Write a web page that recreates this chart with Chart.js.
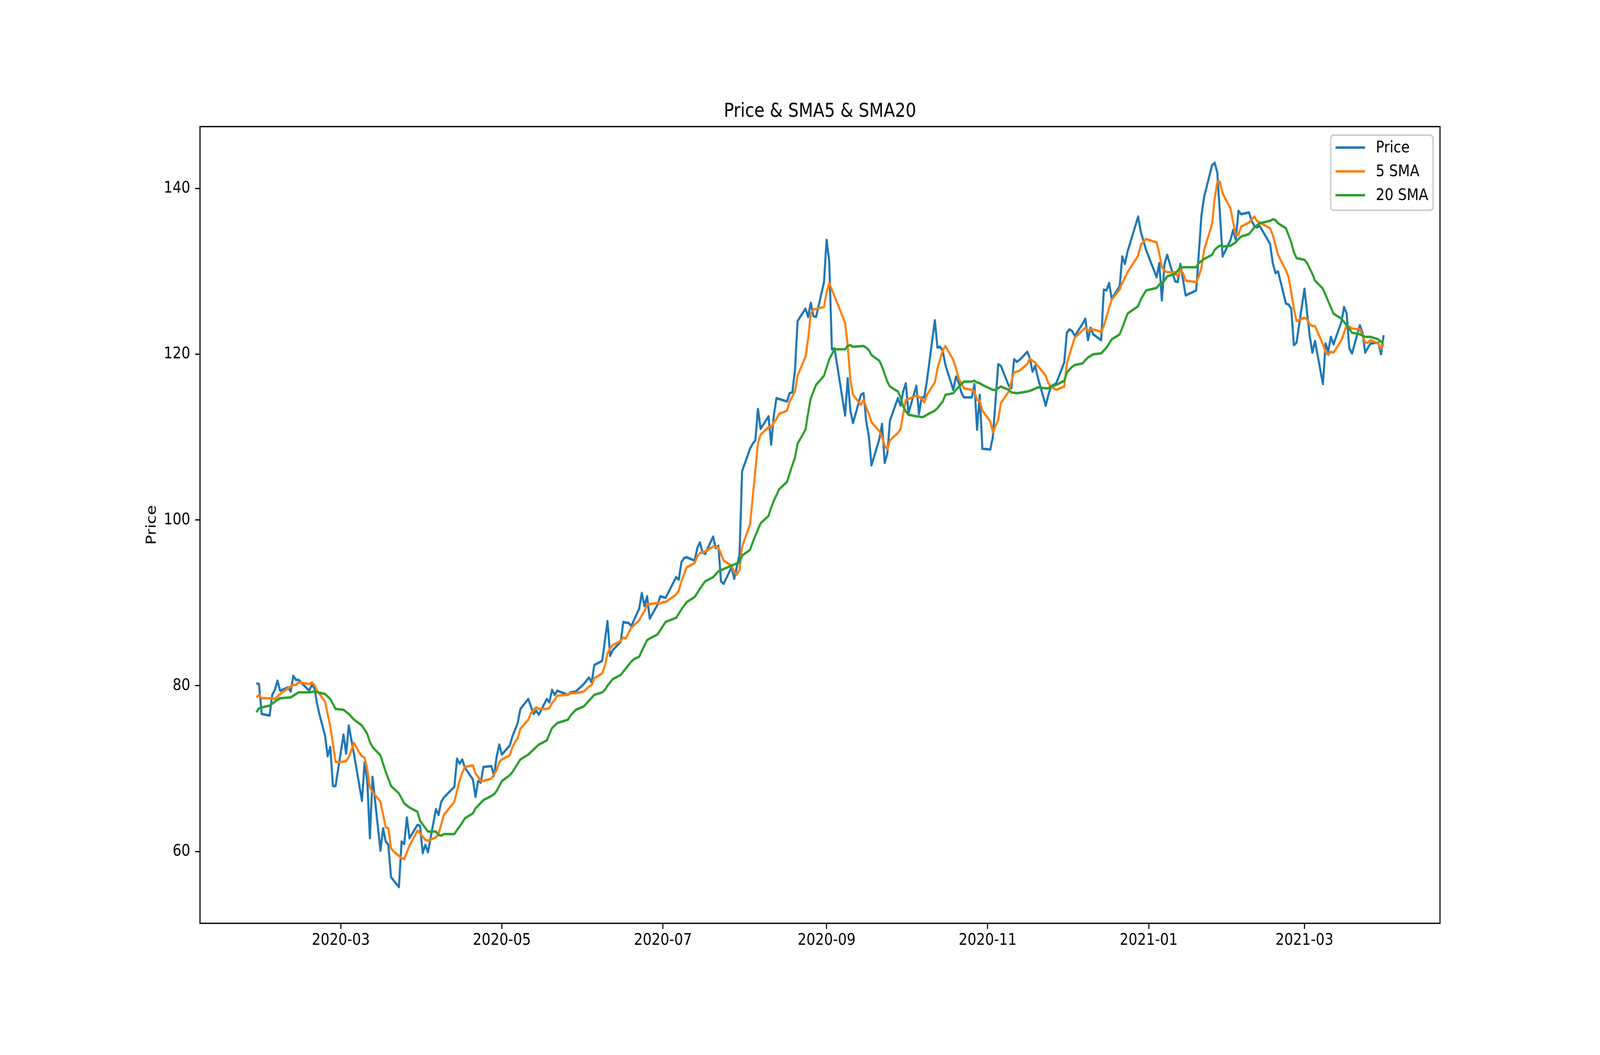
<!DOCTYPE html>
<html>
<head>
<meta charset="utf-8">
<title>Price &amp; SMA5 &amp; SMA20</title>
<script src="https://cdn.jsdelivr.net/npm/chart.js@4.4.1/dist/chart.umd.min.js"></script>
<style>
  html, body { margin: 0; padding: 0; background: #ffffff; overflow: hidden; }
  canvas { display: block; position: fixed; left: 0; top: 0; }
</style>
</head>
<body>
<canvas id="graphique" width="4800" height="2700"></canvas>
<script>
// jours comptés depuis le 2020-01-01 (0 = 1er janvier 2020)
var prixJours = [28,29,30,33,34,35,36,37,40,41,42,43,44,48,49,50,51,52,54,55,56,57,58,61,62,63,65,68,69,70,71,72,75,76,77,78,79,82,83,84,85,86,89,90,91,92,93,96,97,98,
  99,103,104,105,106,107,110,111,112,113,114,117,118,119,120,121,124,125,127,128,131,133,134,135,138,139,140,141,142,146,147,149,152,154,155,156,159,160,161,162,163,166,167,168,169,170,
  173,174,175,176,177,180,181,183,187,188,189,190,191,194,195,196,197,198,201,202,203,204,205,208,209,211,212,215,216,217,218,219,222,223,224,225,229,230,231,232,233,236,237,238,239,240,243,244,245,246,247,
  251,252,253,254,257,258,259,260,261,264,265,266,267,268,271,272,273,274,275,278,279,280,281,282,285,286,287,288,289,292,293,294,295,296,299,300,301,302,303,306,307,309,310,313,314,315,316,317,318,320,321,322,323,324,
  327,328,329,331,334,335,336,337,338,341,342,343,344,345,348,349,350,351,352,355,356,357,358,362,363,365,369,370,371,372,373,376,377,378,380,384,386,387,390,391,392,394,397,398,399,400,401,404,
  405,406,407,408,412,413,414,415,418,419,420,421,422,425,427,428,429,432,433,434,435,436,439,440,441,442,443,446,447,448,450,453,454,455];
var prixValeurs = [80.3,80.2,76.6,76.4,78.9,79.5,80.6,79.4,79.8,79.3,81.2,80.7,80.7,79.4,80.1,79.7,77.8,76.4,74.0,71.5,72.6,67.9,67.9,74.1,71.8,75.2,71.7,66.1,70.8,68.5,61.6,69.0,60.1,62.8,61.2,60.8,56.9,55.7,61.2,60.9,64.1,61.6,63.2,63.1,59.8,60.8,59.9,65.1,64.4,66.0,
  66.5,67.8,71.2,70.6,71.1,70.1,68.7,66.6,68.5,68.3,70.2,70.3,69.1,71.4,72.9,71.7,72.8,73.9,75.5,77.2,78.4,76.6,77.0,76.5,78.4,78.0,79.5,78.9,79.4,78.9,79.2,79.3,80.2,81.0,80.4,82.5,83.0,85.4,87.8,83.6,84.3,85.3,87.7,87.6,87.6,87.2,
  89.3,91.2,89.6,90.8,88.1,89.8,90.8,90.6,93.1,92.8,94.9,95.4,95.5,95.1,96.6,97.3,96.1,95.9,98.0,96.6,96.9,92.6,92.3,94.3,92.9,95.8,105.9,108.6,109.2,109.6,113.4,111.0,112.5,109.1,112.6,114.7,114.3,115.3,115.4,118.0,124.0,125.5,124.5,126.2,124.6,124.5,128.7,133.8,131.2,120.6,120.7,
  112.6,117.1,113.2,111.7,115.1,115.3,111.9,110.1,106.6,109.8,111.6,106.9,108.0,112.0,114.7,113.8,115.5,116.5,112.9,116.2,112.8,114.8,114.8,116.8,124.1,120.8,120.9,120.4,118.7,115.7,117.3,116.6,115.4,114.8,114.8,116.4,110.9,115.1,108.6,108.5,110.1,118.8,118.6,116.2,115.9,119.4,119.1,119.3,119.6,120.3,119.5,117.9,118.6,117.2,
  113.8,115.1,116.1,116.5,119.0,122.6,123.0,122.8,122.2,123.7,124.3,121.7,123.2,122.4,121.7,127.8,127.7,128.6,126.7,128.2,131.8,130.9,132.4,136.6,134.8,132.6,129.3,131.0,126.5,130.9,132.0,128.8,128.7,130.9,127.1,127.7,136.8,139.0,142.8,143.1,141.9,131.8,133.8,135.0,133.8,137.3,136.9,137.1,
  136.1,135.5,135.3,135.5,133.3,131.0,129.8,130.0,126.1,126.0,125.5,121.1,121.4,127.9,122.2,120.2,121.6,116.4,121.3,120.3,122.1,121.2,123.9,125.7,124.9,120.7,120.1,123.5,122.6,120.2,121.3,121.4,120.0,122.3];

var sma5Jours = [28,29,30,34,35,37,40,41,42,43,44,48,49,50,51,54,56,58,60,62,63,65,67,68,69,70,71,72,75,77,78,79,80,83,84,86,89,90,92,93,96,97,
  99,103,105,106,107,110,111,112,113,114,117,118,119,120,121,124,125,126,127,128,131,132,134,135,138,139,140,141,142,146,147,149,152,154,155,156,159,160,161,162,163,166,167,168,169,170,
  173,174,175,176,178,180,181,182,183,187,188,189,191,194,195,196,198,201,203,205,208,209,210,211,212,215,216,217,218,219,222,223,224,225,226,229,230,232,233,236,237,238,239,243,244,245,
  251,252,253,254,257,258,259,260,261,264,265,266,267,268,271,272,274,275,278,280,281,282,285,286,288,289,292,293,294,296,299,300,301,302,303,306,307,309,310,313,314,315,317,320,321,322,323,
  327,328,329,331,334,335,337,338,342,343,345,348,349,351,352,355,356,358,362,363,365,369,370,371,372,373,376,377,378,379,380,384,385,386,387,390,391,392,393,394,397,398,399,400,401,404,
  406,407,408,412,413,414,415,418,419,420,421,422,425,426,427,428,429,432,433,434,435,436,439,440,441,443,446,447,448,449,450,453,454,455];
var sma5Valeurs = [78.6,78.9,78.5,78.5,78.4,79.0,79.7,79.9,80.1,80.1,80.4,80.2,80.4,80.1,79.4,78.1,75.1,70.8,70.8,70.9,71.4,73.1,71.9,71.5,71.3,69.9,67.7,67.2,66.0,62.9,62.8,60.4,60.0,59.2,59.1,60.7,62.5,62.2,61.4,61.3,61.7,62.1,
  64.4,66.0,68.6,69.5,70.2,70.4,69.4,69.0,68.5,68.5,68.8,69.3,69.8,70.8,71.1,71.6,72.6,73.2,73.7,74.8,75.9,76.7,77.4,77.2,77.2,77.3,77.9,78.3,78.8,78.9,79.1,79.1,79.3,79.9,80.1,80.9,81.5,82.4,83.9,84.5,84.9,85.4,85.8,85.7,86.4,87.0,
  87.9,88.5,89.0,89.8,89.9,90.0,89.9,90.1,90.1,91.0,91.5,92.6,94.3,94.8,95.6,96.0,96.2,96.8,96.7,95.1,94.5,93.7,93.4,94.0,96.8,99.5,102.7,106.0,109.3,110.3,111.2,111.2,111.8,112.2,112.8,113.2,114.3,115.5,117.4,119.7,121.9,124.9,125.4,125.7,127.5,128.6,
  123.8,121.0,116.9,115.1,113.9,114.5,113.6,112.8,111.8,110.7,110.0,109.0,108.5,109.6,110.5,111.0,114.5,114.6,115.0,114.7,114.2,115.1,116.6,118.3,120.5,121.0,119.3,118.3,117.1,115.9,115.7,115.5,114.5,114.4,113.2,111.9,110.6,112.1,114.1,115.5,116.7,117.8,118.0,118.8,119.5,119.2,119.0,
  117.4,116.5,116.1,115.7,116.1,118.9,121.0,122.0,123.2,122.9,123.0,122.7,123.4,125.6,126.6,127.8,128.6,129.9,131.9,133.2,133.9,133.5,132.2,130.5,130.1,129.9,129.9,129.4,130.2,129.8,128.9,128.7,129.4,130.5,132.6,135.7,138.8,140.8,140.8,139.4,137.6,135.9,134.4,134.4,135.4,135.9,
  136.6,136.1,135.9,135.2,134.4,133.2,132.0,130.1,129.3,127.4,125.5,124.0,124.4,124.2,123.6,123.4,123.4,121.2,120.3,119.9,120.3,120.2,121.7,122.6,123.5,123.1,123.0,122.3,121.4,121.4,121.7,121.3,120.7,121.2];

var sma20Jours = [28,29,33,36,37,41,44,48,50,54,56,58,61,63,65,68,70,71,72,75,77,79,82,84,86,89,90,93,96,97,98,
  99,103,104,105,107,110,111,114,117,118,119,121,124,125,128,131,135,138,140,142,146,147,149,152,154,156,159,160,161,163,166,168,170,
  171,173,174,176,177,180,183,187,189,191,194,196,198,201,203,208,211,212,215,216,217,219,222,223,224,226,229,231,232,233,236,237,238,240,243,245,246,247,
  251,252,253,254,258,259,260,261,264,265,267,268,271,272,273,274,275,278,279,280,281,282,285,286,288,289,292,293,295,296,299,300,301,302,303,307,308,309,310,313,314,316,320,321,322,324,
  327,328,329,331,334,335,337,338,341,342,343,345,348,350,351,352,355,356,358,362,363,365,369,370,372,373,376,377,378,380,384,385,387,390,391,392,393,394,397,398,399,400,401,404,
  406,408,412,413,414,415,418,420,421,422,425,426,428,429,432,434,436,439,441,443,446,448,450,453,454,455];
var sma20Valeurs = [76.8,77.3,77.6,78.3,78.5,78.6,79.2,79.2,79.3,79.0,78.4,77.2,77.1,76.6,75.9,75.2,74.2,73.2,72.6,71.6,69.6,67.9,67.0,65.8,65.3,64.8,63.7,62.4,62.4,62.0,61.9,
  62.1,62.1,62.6,63.0,64.0,64.6,65.2,66.2,66.7,66.9,67.3,68.5,69.2,69.6,71.1,71.7,72.9,73.4,74.9,75.5,75.9,76.4,77.1,77.5,78.2,78.9,79.2,79.5,80.0,80.8,81.3,82.1,82.9,
  83.2,83.5,84.2,85.5,85.7,86.2,87.7,88.2,89.2,90.1,90.7,91.7,92.6,93.1,93.8,94.5,94.9,95.7,96.4,97.3,98.1,99.6,100.5,101.5,102.3,103.7,104.6,106.6,107.5,109.2,110.9,112.9,114.7,116.3,117.4,119.4,120.0,120.6,
  120.6,121.0,121.1,120.9,121.0,120.8,120.5,119.9,119.2,118.5,116.7,116.1,115.5,114.8,113.7,113.1,112.7,112.5,112.5,112.4,112.5,112.7,113.2,113.5,114.3,115.1,115.3,115.7,116.4,116.7,116.7,116.8,116.6,116.5,116.3,115.7,115.7,115.9,116.1,115.7,115.4,115.3,115.5,115.6,115.7,116.0,
  115.9,115.9,116.1,116.3,116.8,117.8,118.5,118.7,118.9,119.3,119.6,120.0,120.1,120.8,121.3,121.8,122.4,123.2,124.9,125.8,126.6,127.7,128.0,128.4,128.9,129.4,129.7,130.1,130.5,130.5,130.5,131.0,131.5,132.0,132.6,132.9,133.1,133.0,133.1,133.3,133.5,133.9,134.2,134.5,
  135.3,135.8,136.1,136.3,136.2,135.8,135.2,133.5,132.3,131.6,131.4,131.0,129.7,128.9,127.9,126.4,124.9,124.3,123.5,122.6,122.4,122.1,122.1,121.8,121.5,121.5];

// graduations
var tickLabels = ['2020-03','2020-05','2020-07','2020-09','2020-11','2021-01','2021-03'];
var yTicks = [60, 80, 100, 120, 140];

var jourZero = Date.UTC(2020, 0, 1);
function jourDepuis(label) {
  var p = label.split('-');
  return (Date.UTC(+p[0], +p[1] - 1, 1) - jourZero) / 86400000;
}
var tickJours = tickLabels.map(jourDepuis);

function points(jours, valeurs) {
  return jours.map(function(j, i) { return { x: j, y: valeurs[i] }; });
}

// marges de 5 % comme matplotlib
var xMinD = Math.min.apply(null, prixJours), xMaxD = Math.max.apply(null, prixJours);
var yMinD = Math.min.apply(null, prixValeurs.concat(sma5Valeurs, sma20Valeurs));
var yMaxD = Math.max.apply(null, prixValeurs.concat(sma5Valeurs, sma20Valeurs));
var xm = (xMaxD - xMinD) * 0.05, ym = (yMaxD - yMinD) * 0.05;

var police = 'DejaVu Sans';
var pt = 300 / 72;

var decorPlugin = {
  id: 'decor',
  afterDatasetsDraw: function(chart) {
    var ctx = chart.ctx, a = chart.chartArea;
    ctx.save();
    // cadre
    ctx.strokeStyle = '#000000';
    ctx.lineWidth = 0.8 * pt;
    ctx.strokeRect(a.left, a.top, a.right - a.left, a.bottom - a.top);

    // titre
    ctx.fillStyle = '#000000';
    ctx.font = (12 * pt) + 'px "' + police + '"';
    ctx.textAlign = 'center';
    ctx.textBaseline = 'alphabetic';
    ctx.fillText('Price & SMA5 & SMA20', (a.left + a.right) / 2, a.top - 6 * pt);

    // titre axe y
    ctx.font = (10 * pt) + 'px "' + police + '"';
    ctx.save();
    ctx.translate(456, (a.top + a.bottom) / 2);
    ctx.rotate(-Math.PI / 2);
    ctx.textBaseline = 'middle';
    ctx.fillText('Price', 0, 0);
    ctx.restore();

    // légende
    var lx = a.right - 328, ly = a.top + 22, lw = 307, lh = 192;
    ctx.beginPath();
    if (ctx.roundRect) ctx.roundRect(lx, ly, lw, lh, 0.2 * 10 * pt);
    else ctx.rect(lx, ly, lw, lh);
    ctx.fillStyle = 'rgba(255,255,255,0.8)';
    ctx.fill();
    ctx.strokeStyle = '#cccccc';
    ctx.lineWidth = 1 * pt;
    ctx.stroke();

    var noms = ['Price', '5 SMA', '20 SMA'];
    var couleurs = ['#1f77b4', '#ff7f0e', '#2ca02c'];
    ctx.textAlign = 'left';
    ctx.textBaseline = 'middle';
    ctx.lineWidth = 1.5 * pt;
    for (var i = 0; i < noms.length; i++) {
      var yy = ly + 31.5 + i * 61;
      ctx.strokeStyle = couleurs[i];
      ctx.beginPath();
      ctx.moveTo(lx + 14.5, yy);
      ctx.lineTo(lx + 103, yy);
      ctx.stroke();
      ctx.fillStyle = '#000000';
      ctx.fillText(noms[i], lx + 135.5, yy + 2);
    }
    ctx.restore();
  }
};

document.addEventListener('DOMContentLoaded', function() {
  var canvas = document.getElementById('graphique');
  var ctx = canvas.getContext('2d');
  var styleLigne = { borderWidth: 1.5 * pt, pointRadius: 0, fill: false, tension: 0, borderJoinStyle: 'round' };
  var chart = new Chart(ctx, {
    type: 'line',
    data: {
      datasets: [
        Object.assign({ label: 'Price', data: points(prixJours, prixValeurs), borderColor: '#1f77b4', order: 3 }, styleLigne),
        Object.assign({ label: '5 SMA', data: points(sma5Jours, sma5Valeurs), borderColor: '#ff7f0e', order: 2 }, styleLigne),
        Object.assign({ label: '20 SMA', data: points(sma20Jours, sma20Valeurs), borderColor: '#2ca02c', order: 1 }, styleLigne)
      ]
    },
    options: {
      responsive: false,
      animation: false,
      devicePixelRatio: 1,
      layout: { padding: { left: 400, top: 324, right: 480, bottom: 187 } },
      plugins: { legend: { display: false }, title: { display: false }, tooltip: { enabled: false } },
      scales: {
        x: {
          type: 'linear',
          min: xMinD - xm,
          max: xMaxD + xm,
          afterBuildTicks: function(scale) {
            scale.ticks = tickJours.map(function(v) { return { value: v }; });
          },
          afterFit: function(scale) { scale.height = 150; },
          border: { display: false },
          grid: { drawOnChartArea: false, drawTicks: true, tickLength: 3.5 * pt, tickWidth: 0.8 * pt, tickColor: '#000000' },
          ticks: {
            autoSkip: false,
            maxRotation: 0,
            padding: 4.6,
            color: '#000000',
            font: { family: police, size: 10 * pt },
            callback: function(value) {
              var i = tickJours.indexOf(value);
              return i >= 0 ? tickLabels[i] : '';
            }
          }
        },
        y: {
          type: 'linear',
          min: yMinD - ym,
          max: yMaxD + ym,
          afterBuildTicks: function(scale) {
            scale.ticks = yTicks.map(function(v) { return { value: v }; });
          },
          afterFit: function(scale) { scale.width = 200; },
          border: { display: false },
          grid: { drawOnChartArea: false, drawTicks: true, tickLength: 3.5 * pt, tickWidth: 0.8 * pt, tickColor: '#000000' },
          ticks: {
            padding: 3.5 * pt,
            color: '#000000',
            font: { family: police, size: 10 * pt },
            callback: function(value) { return value; }
          }
        }
      }
    },
    plugins: [decorPlugin]
  });
  // le bitmap 4800x2700 remplit la fenêtre, quelle que soit sa taille CSS
  canvas.style.width = '100vw';
  canvas.style.height = '100vh';
});
</script>
</body>
</html>
